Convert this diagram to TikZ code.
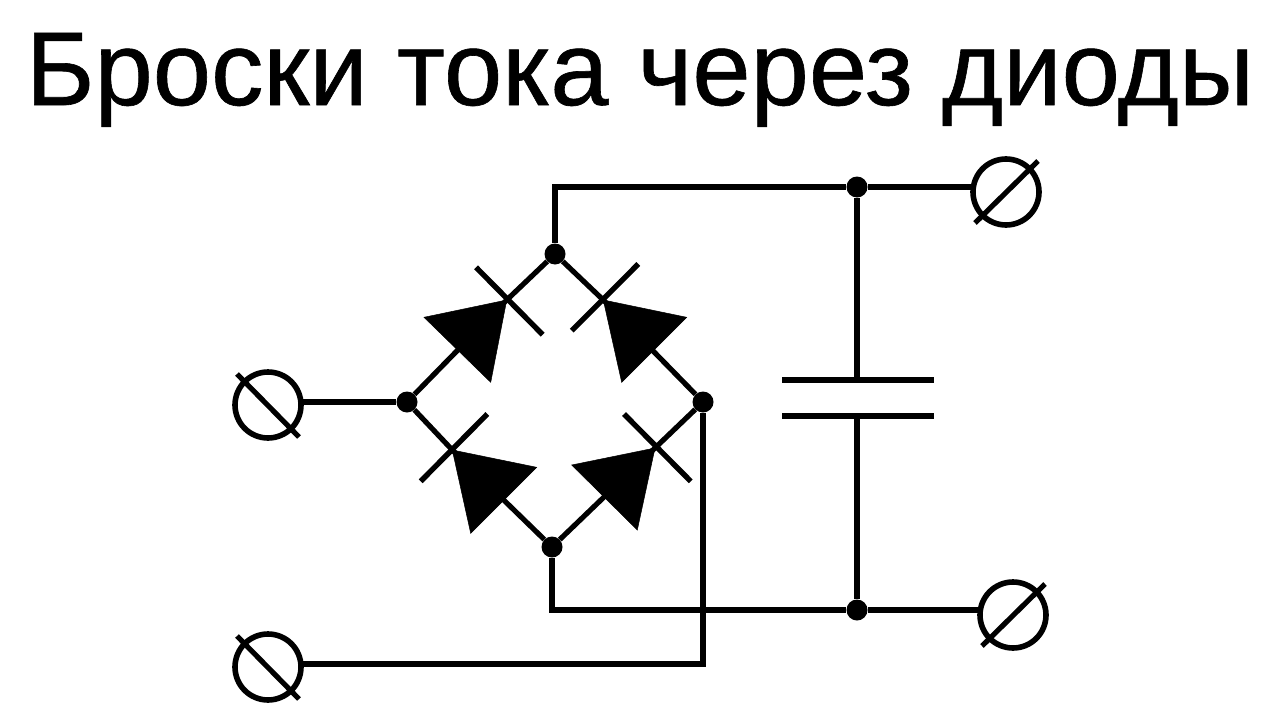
\documentclass[tikz,border=0pt]{standalone}
\usepackage{fontspec}
\setmainfont{Liberation Sans}[FakeBold=0.6]
\tikzset{
  wire/.style={line width=5.2pt,line cap=butt,line join=miter},
  bar/.style={line width=5.4pt},
  junction/.style={circle,fill=black,draw=none,inner sep=0pt,minimum size=21pt},
  terminal/.style={circle,draw=black,line width=5.6pt,fill=none,inner sep=0pt,minimum size=66pt},
  diodehead/.style={fill=black,draw=black,line width=0.5pt,line join=miter}
}
\begin{document}
\begin{tikzpicture}[x=1pt,y=-1pt]
\useasboundingbox (0,0) rectangle (1280,720);
\node[font=\fontsize{104.8}{110}\selectfont,inner sep=0pt,anchor=base] (title) at (640,105) {Броски тока через диоды};
% junctions
\node[junction] (T) at (555,254) {};
\node[junction] (L) at (407,402) {};
\node[junction] (R) at (703,402) {};
\node[junction] (B) at (552,547) {};
\node[junction] (J1) at (857,187) {};
\node[junction] (J2) at (857,610) {};
% terminals
\node[terminal] (t1) at (268,405) {};
\node[terminal] (t2) at (268,667) {};
\node[terminal] (t3) at (1006,192) {};
\node[terminal] (t4) at (1013,615) {};
\draw[wire] (237,374) -- (299,437);
\draw[wire] (237,636) -- (299,699);
\draw[wire] (1038,161) -- (975,223);
\draw[wire] (1045,584) -- (982,646);
% diode reference points
\coordinate (d1) at (506.7,300);
\coordinate (d2) at (603.3,300);
\coordinate (d3) at (452.3,450);
\coordinate (d4) at (655,448);
% bridge wires
\draw[wire] (L) -- (d1) -- (T) -- (d2) -- (R);
\draw[wire] (L) -- (d3) -- (B) -- (d4) -- (R);
% bars
\draw[bar] (476,267.3) -- (542.7,334.7);
\draw[bar] (638.3,264) -- (571.7,330.7);
\draw[bar] (487.3,414) -- (420.7,481.3);
\draw[bar] (624,414) -- (690.7,481.3);
% heads
\fill[diodehead] (d1) -- (424,317.3) -- (490.7,382.3) -- cycle;
\fill[diodehead] (d2) -- (686.7,317.3) -- (621.7,382.3) -- cycle;
\fill[diodehead] (d3) -- (536.7,467.3) -- (470.7,533.3) -- cycle;
\fill[diodehead] (d4) -- (571.7,465) -- (637.3,530) -- cycle;
% outer wires
\coordinate (e3) at (971,187);
\coordinate (e4) at (978,610);
\coordinate (e1) at (302,402);
\coordinate (e2) at (302,664);
\draw[wire] (T) -- (T |- J1) -- (J1) -- (e3);
\draw[wire] (B) -- (B |- J2) -- (J2) -- (e4);
\draw[wire] (L) -- (e1);
\draw[wire] (R) -- (R |- e2) -- (e2);
% capacitor
\coordinate (c1) at (857,380);
\coordinate (c2) at (857,416);
\draw[wire] (J1) -- (c1);
\draw[wire] (J2) -- (c2);
\draw[wire] (782,380) -- (934,380);
\draw[wire] (782,416) -- (934,416);
\end{tikzpicture}
\end{document}
